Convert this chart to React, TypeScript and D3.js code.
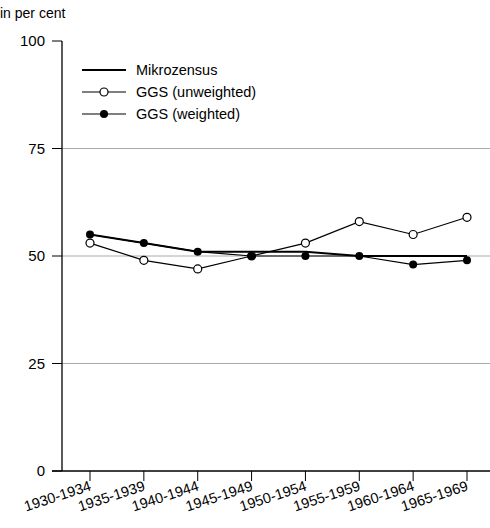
import React from "react";
import * as d3 from "d3";

const categories = ["1930-1934", "1935-1939", "1940-1944", "1945-1949", "1950-1954", "1955-1959", "1960-1964", "1965-1969"];
const mikrozensus = [55, 53, 51, 51, 51, 50, 50, 50];
const ggsUnweighted = [53, 49, 47, 50, 53, 58, 55, 59];
const ggsWeighted = [55, 53, 51, 50, 50, 50, 48, 49];
const yTicks = [0, 25, 50, 75, 100];

const App = () => {
  const width = 490, height = 528;
  const x = d3.scalePoint<string>().domain(categories).range([90, 467]);
  const y = d3.scaleLinear().domain([0, 100]).range([471, 41]);
  const line = d3.line<number>().x((_, i) => x(categories[i])!).y((d) => y(d));
  const font = "Arial, 'Liberation Sans', sans-serif";

  const legend = [
    { label: "Mikrozensus", marker: "none" },
    { label: "GGS (unweighted)", marker: "open" },
    { label: "GGS (weighted)", marker: "filled" },
  ];

  return (
    <svg width={width} height={height} style={{ position: "absolute", left: 0, top: 0 }} fontFamily={font}>
      <text x={0} y={18} fontSize={14}>in per cent</text>
      {yTicks.map((t) => (
        <g key={t}>
          {t > 0 && t < 100 && <line x1={62} x2={490} y1={y(t)} y2={y(t)} stroke="#aaa" strokeWidth={1} />}
          <line x1={52} x2={62} y1={y(t)} y2={y(t)} stroke="#000" />
          <text x={45} y={y(t)} dy="0.35em" fontSize={15} textAnchor="end">{t}</text>
        </g>
      ))}
      <line x1={62} x2={62} y1={41} y2={471} stroke="#000" strokeWidth={1.3} />
      <line x1={52} x2={490} y1={471} y2={471} stroke="#000" strokeWidth={1.3} />
      {categories.map((c) => (
        <g key={c}>
          <line x1={x(c)} x2={x(c)} y1={471} y2={481} stroke="#000" />
          <text transform={`translate(${x(c)! + 2},490) rotate(-18)`} fontSize={14.5} textAnchor="end">{c}</text>
        </g>
      ))}
      <path d={line(mikrozensus)!} fill="none" stroke="#000" strokeWidth={2} />
      <path d={line(ggsUnweighted)!} fill="none" stroke="#000" strokeWidth={1.2} />
      <path d={line(ggsWeighted)!} fill="none" stroke="#000" strokeWidth={1.2} />
      {ggsUnweighted.map((d, i) => (
        <circle key={"u" + i} cx={x(categories[i])} cy={y(d)} r={4} fill="#fff" stroke="#000" strokeWidth={1.2} />
      ))}
      {ggsWeighted.map((d, i) => (
        <circle key={"w" + i} cx={x(categories[i])} cy={y(d)} r={4} fill="#000" />
      ))}
      {legend.map((l, i) => {
        const ly = 70 + i * 22;
        return (
          <g key={l.label}>
            <line x1={82} x2={126} y1={ly} y2={ly} stroke="#000" strokeWidth={l.marker === "none" ? 2 : 1.2} />
            {l.marker === "open" && <circle cx={104} cy={ly} r={4} fill="#fff" stroke="#000" strokeWidth={1.2} />}
            {l.marker === "filled" && <circle cx={104} cy={ly} r={4} fill="#000" />}
            <text x={136} y={ly} dy="0.35em" fontSize={14.5}>{l.label}</text>
          </g>
        );
      })}
    </svg>
  );
};

export default App;
